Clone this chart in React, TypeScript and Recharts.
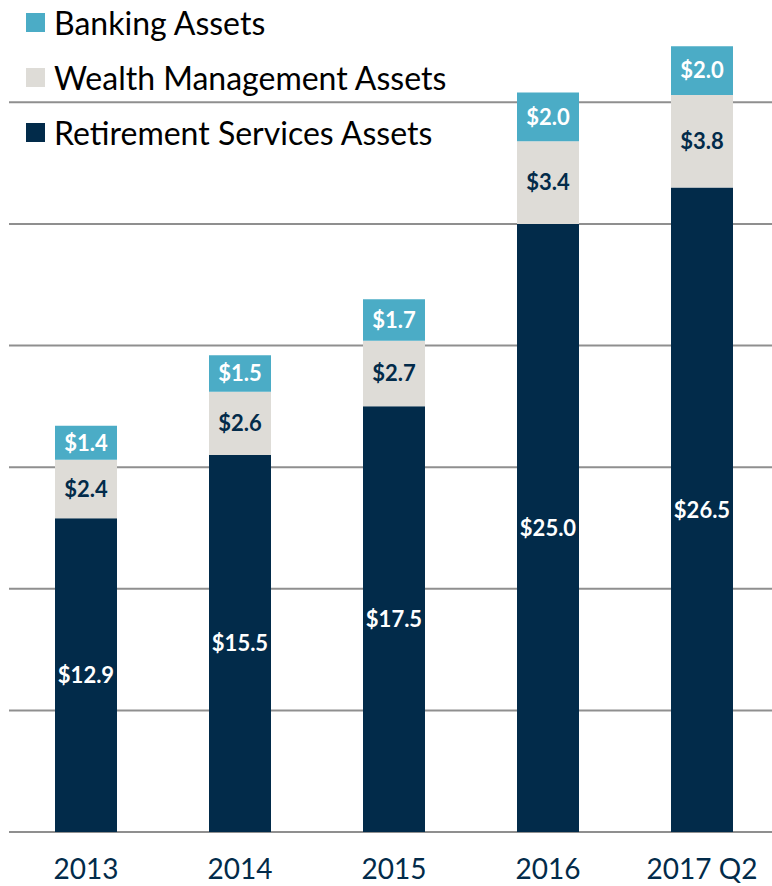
import React from 'react';
import { BarChart, Bar, XAxis, YAxis, CartesianGrid, LabelList, Legend } from 'recharts';

const categories = ['2013', '2014', '2015', '2016', '2017 Q2'];
const retirement = [12.9, 15.5, 17.5, 25.0, 26.5];
const wealth = [2.4, 2.6, 2.7, 3.4, 3.8];
const banking = [1.4, 1.5, 1.7, 2.0, 2.0];
const yTicks = [0, 5, 10, 15, 20, 25, 30];

const NAVY = '#022B4A';
const GRAY = '#DEDCD7';
const TEAL = '#4BACC6';
const FONT = 'Lato, "Open Sans", sans-serif';

const data = categories.map((c, i) => ({
  name: c,
  retirement: retirement[i],
  wealth: wealth[i],
  banking: banking[i],
}));

const legendItems = [
  { label: 'Banking Assets', color: TEAL },
  { label: 'Wealth Management Assets', color: GRAY },
  { label: 'Retirement Services Assets', color: NAVY },
];

const fmt = (v: any) => `$${Number(v).toFixed(1)}`;

const LegendContent = () => (
  <div style={{ fontFamily: FONT, fontSize: 32, color: '#000' }}>
    {legendItems.map((it) => (
      <div key={it.label} style={{ display: 'flex', alignItems: 'center', height: 55 }}>
        <div style={{ width: 19, height: 19, background: it.color, marginLeft: 26, marginRight: 9, flexShrink: 0 }} />
        <span style={{ lineHeight: '55px', whiteSpace: 'nowrap' }}>{it.label}</span>
      </div>
    ))}
  </div>
);

const gridGen = (props: any) => {
  const scale = props?.yAxis?.scale;
  if (typeof scale === 'function') return yTicks.map((t) => scale(t));
  const top = props.offset.top;
  const h = props.offset.height;
  return yTicks.map((t) => top + h - (t / 34) * h);
};

export default function App() {
  return (
    <div style={{ position: 'fixed', left: 0, top: 0, width: 772, height: 886, overflow: 'hidden', background: '#fff' }}>
      <BarChart
        width={780}
        height={886}
        data={data}
        margin={{ top: 5, right: 1, left: 9, bottom: 0 }}
        barSize={62}
      >
        <CartesianGrid vertical={false} stroke="#8f8f8f" strokeWidth={2} horizontalCoordinatesGenerator={gridGen} />
        <YAxis hide domain={[0, 34]} ticks={yTicks} type="number" allowDataOverflow />
        <XAxis
          dataKey="name"
          height={54}
          axisLine={false}
          tickLine={false}
          tickMargin={21}
          interval={0}
          tick={{ fill: NAVY, fontSize: 28, fontFamily: FONT }}
        />
        <Legend
          layout="vertical"
          align="center"
          verticalAlign="middle"
          wrapperStyle={{ top: -5, left: 0, width: 560 }}
          content={() => <LegendContent />}
        />
        <Bar dataKey="retirement" stackId="a" fill={NAVY} isAnimationActive={false}>
          <LabelList dataKey="retirement" position="center" formatter={fmt} fill="#fff" fontSize={22} fontWeight="bold" fontFamily={FONT} />
        </Bar>
        <Bar dataKey="wealth" stackId="a" fill={GRAY} isAnimationActive={false}>
          <LabelList dataKey="wealth" position="center" formatter={fmt} fill={NAVY} fontSize={22} fontWeight="bold" fontFamily={FONT} />
        </Bar>
        <Bar dataKey="banking" stackId="a" fill={TEAL} isAnimationActive={false}>
          <LabelList dataKey="banking" position="center" formatter={fmt} fill="#fff" fontSize={22} fontWeight="bold" fontFamily={FONT} />
        </Bar>
      </BarChart>
    </div>
  );
}
